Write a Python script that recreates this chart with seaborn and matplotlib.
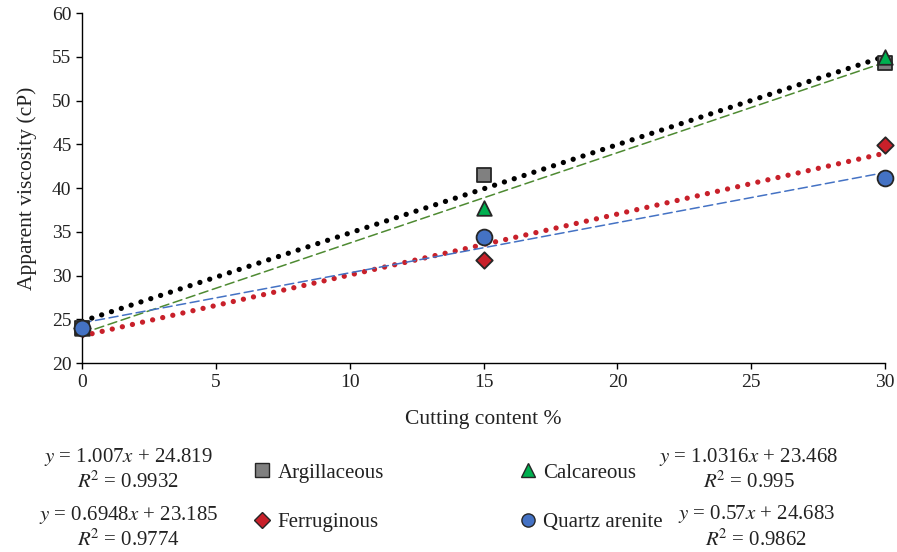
import numpy as np
import pandas as pd
import matplotlib
matplotlib.use("Agg")
import matplotlib.pyplot as plt
import seaborn as sns
from matplotlib.lines import Line2D

# ==========================================
# data
# ==========================================
cutting = [0, 15, 30]
argillaceous = [24.0, 41.5, 54.3]
calcareous = [24.0, 37.7, 55.0]
ferruginous = [24.0, 31.8, 44.9]
quartz_arenite = [24.0, 34.4, 41.2]

series_names = ["Argillaceous", "Calcareous", "Ferruginous", "Quartz arenite"]
equations = {
    "Argillaceous": ("$y$ = 1.007$x$ + 24.819", r"$R^{\!2}$ = 0.9932"),
    "Calcareous": ("$y$ = 1.0316$x$ + 23.468", r"$R^{\!2}$ = 0.995"),
    "Ferruginous": ("$y$ = 0.6948$x$ + 23.185", r"$R^{\!2}$ = 0.9774"),
    "Quartz arenite": ("$y$ = 0.57$x$ + 24.683", r"$R^{\!2}$ = 0.9862"),
}

df = pd.DataFrame({
    "Cutting": cutting * 4,
    "Viscosity": argillaceous + calcareous + ferruginous + quartz_arenite,
    "Type": sum([[n] * 3 for n in series_names], []),
})

# --- styles ---
sns.set_theme(style="ticks")
plt.rcParams["font.family"] = ["Liberation Serif", "DejaVu Serif"]
plt.rcParams["mathtext.fontset"] = "stix"

face = {"Argillaceous": "#808080", "Calcareous": "#00b050",
        "Ferruginous": "#c8202a", "Quartz arenite": "#4472c4"}
markers = {"Argillaceous": "s", "Calcareous": "^",
           "Ferruginous": "D", "Quartz arenite": "o"}
msize = {"Argillaceous": 110, "Calcareous": 110, "Ferruginous": 70, "Quartz arenite": 130}
trend = {
    "Argillaceous": dict(color="black", lw=3.8, ls=(0, (0.01, 1.95))),
    "Calcareous": dict(color="#4e8a32", lw=1.1, ls=(0, (6, 3))),
    "Ferruginous": dict(color="#c8202a", lw=3.8, ls=(0, (0.01, 1.95))),
    "Quartz arenite": dict(color="#4472c4", lw=1.1, ls=(0, (6, 3))),
}

fig = plt.figure(figsize=(8.97, 5.52), dpi=100)
ax = fig.add_axes([0.0914, 0.342, 0.8955, 0.634])

# trendlines (linear fit)
xs = np.array([0, 30])
for name in series_names:
    sub = df[df["Type"] == name]
    k, b = np.polyfit(sub["Cutting"], sub["Viscosity"], 1)
    st = trend[name]
    sns.lineplot(x=xs, y=k * xs + b, ax=ax, color=st["color"], lw=st["lw"],
                 linestyle=st["ls"], dash_capstyle="round", zorder=2)

# points
for name in series_names:
    sub = df[df["Type"] == name]
    sns.scatterplot(data=sub, x="Cutting", y="Viscosity", marker=markers[name],
                    s=msize[name], color=face[name], edgecolor="#262626",
                    linewidth=1.3, ax=ax, zorder=3, clip_on=False)

ax.set_xlim(0, 30)
ax.set_ylim(20, 60)
ax.set_xticks(range(0, 31, 5))
ax.set_yticks(range(20, 61, 5))
ax.tick_params(labelsize=14, length=4.5, width=1, pad=3, color="black", labelcolor="#222222")
for sp in ["left", "bottom"]:
    ax.spines[sp].set_color("black")
    ax.spines[sp].set_linewidth(1)
sns.despine(ax=ax)
ax.set_xlabel("Cutting content %", fontsize=15.5, labelpad=14, color="#222222")
ax.set_ylabel("Apparent viscosity (cP)", fontsize=15.5, labelpad=11, color="#222222")

# legend (two columns, placed by hand)
def handle(name):
    return Line2D([], [], ls="none", marker=markers[name], markersize=9.5 if name != "Ferruginous" else 8.5,
                  markerfacecolor=face[name], markeredgecolor="#262626", markeredgewidth=1)

leg_kw = dict(frameon=False, fontsize=15, handlelength=0.8, handletextpad=0.35,
              labelspacing=1.42, loc="center left", borderaxespad=0,
              labelcolor="#222222")
leg1 = fig.legend([handle("Argillaceous"), handle("Ferruginous")],
                  ["Argillaceous", "Ferruginous"],
                  bbox_to_anchor=(0.2735, 0.0987), **leg_kw)
leg2 = fig.legend([handle("Calcareous"), handle("Quartz arenite")],
                  ["Calcareous", "Quartz arenite"],
                  bbox_to_anchor=(0.5695, 0.0987), **leg_kw)

# equations
eq_pos = {"Argillaceous": (0.143, 0.149), "Ferruginous": (0.143, 0.044),
          "Calcareous": (0.835, 0.149), "Quartz arenite": (0.843, 0.045)}
for name, (xf, yf) in eq_pos.items():
    l1, l2 = equations[name]
    fig.text(xf, yf + 0.0232, l1, ha="center", va="center", fontsize=15, color="#222222")
    fig.text(xf, yf - 0.0232, l2, ha="center", va="center", fontsize=15, color="#222222")

fig.savefig("out.png", dpi=100)
